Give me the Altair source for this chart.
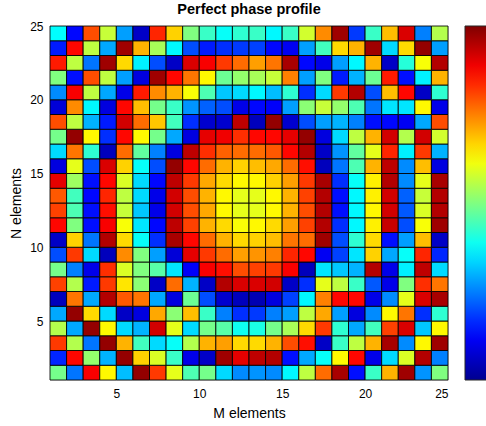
import altair as alt
import pandas as pd

# Phase (degrees); one list per row (row index = lower y edge), columns M = 1..24
row_24 = [135, 47, 288, 205, 101, 22, 302, 241, 180, 155, 137, 151, 155, 133, 155, 209, 266, 349, 65, 155, 248, 328, 90, 198]
row_23 = [54, 313, 202, 104, 349, 252, 194, 133, 72, 54, 61, 65, 68, 47, 40, 101, 158, 238, 252, 349, 122, 238, 353, 101]
row_22 = [306, 202, 86, 349, 238, 130, 72, 22, 328, 317, 295, 277, 259, 274, 346, 47, 36, 101, 133, 252, 22, 148, 223, 342]
row_21 = [180, 50, 288, 202, 101, 32, 349, 313, 274, 227, 173, 187, 194, 205, 270, 101, 180, 54, 108, 173, 306, 50, 130, 252]
row_20 = [94, 317, 202, 104, 36, 306, 266, 252, 223, 162, 115, 122, 133, 112, 151, 61, 122, 295, 342, 72, 248, 313, 22, 151]
row_19 = [29, 266, 133, 32, 313, 248, 176, 155, 97, 79, 72, 36, 47, 43, 101, 184, 205, 187, 162, 86, 126, 126, 227, 36]
row_18 = [288, 202, 108, 54, 331, 277, 245, 158, 61, 25, 25, 338, 18, 353, 25, 72, 101, 108, 90, 50, 47, 40, 104, 288]
row_17 = [176, 353, 227, 61, 313, 227, 176, 104, 32, 324, 320, 299, 313, 313, 324, 353, 32, 122, 202, 252, 331, 198, 331, 209]
row_16 = [122, 274, 151, 18, 277, 169, 90, 32, 338, 299, 281, 277, 277, 284, 313, 342, 22, 97, 169, 216, 302, 130, 295, 108]
row_15 = [32, 216, 72, 328, 241, 137, 72, 353, 313, 277, 252, 241, 248, 256, 277, 310, 18, 86, 162, 252, 338, 94, 248, 32]
row_14 = [324, 191, 50, 313, 212, 122, 47, 338, 295, 256, 238, 227, 227, 241, 259, 295, 346, 61, 137, 230, 342, 94, 216, 346]
row_13 = [284, 158, 47, 302, 202, 122, 36, 331, 288, 252, 227, 216, 216, 227, 252, 292, 342, 50, 133, 230, 331, 79, 205, 342]
row_12 = [292, 162, 50, 310, 205, 115, 36, 331, 288, 256, 227, 216, 216, 227, 252, 288, 342, 50, 133, 227, 331, 76, 212, 342]
row_11 = [313, 180, 50, 317, 223, 126, 47, 338, 292, 252, 238, 223, 227, 238, 259, 292, 342, 61, 133, 230, 335, 72, 223, 349]
row_10 = [22, 241, 86, 342, 238, 137, 61, 346, 313, 277, 252, 238, 241, 248, 274, 277, 349, 72, 151, 238, 50, 101, 248, 22]
row_9 = [72, 295, 122, 18, 266, 180, 101, 29, 324, 295, 277, 259, 263, 270, 302, 313, 40, 68, 126, 241, 104, 137, 302, 58]
row_8 = [176, 90, 36, 299, 212, 180, 166, 126, 43, 317, 310, 288, 292, 295, 317, 18, 126, 115, 108, 342, 36, 130, 338, 122]
row_7 = [292, 198, 54, 295, 234, 184, 22, 277, 108, 22, 342, 328, 328, 331, 22, 61, 216, 202, 155, 76, 36, 180, 299, 274]
row_6 = [18, 274, 104, 342, 284, 274, 104, 32, 173, 72, 25, 18, 14, 32, 68, 133, 270, 313, 313, 36, 94, 216, 328, 346]
row_5 = [104, 353, 238, 122, 22, 32, 256, 184, 248, 155, 90, 61, 65, 90, 101, 202, 256, 101, 32, 94, 227, 274, 61, 151]
row_4 = [198, 104, 353, 227, 122, 108, 331, 216, 122, 176, 166, 140, 144, 176, 194, 238, 295, 151, 104, 158, 292, 328, 115, 227]
row_3 = [295, 198, 86, 353, 252, 158, 122, 137, 198, 252, 259, 238, 238, 252, 288, 310, 22, 155, 202, 252, 346, 94, 227, 349]
row_2 = [58, 313, 187, 108, 353, 241, 212, 155, 36, 22, 349, 324, 338, 342, 50, 104, 137, 227, 313, 36, 122, 212, 342, 90]
row_1 = [176, 86, 317, 227, 112, 353, 295, 216, 162, 176, 122, 94, 97, 94, 133, 202, 277, 346, 50, 155, 252, 349, 97, 180]

rows = {
    1: row_1, 2: row_2, 3: row_3, 4: row_4, 5: row_5, 6: row_6, 7: row_7, 8: row_8,
    9: row_9, 10: row_10, 11: row_11, 12: row_12, 13: row_13, 14: row_14, 15: row_15,
    16: row_16, 17: row_17, 18: row_18, 19: row_19, 20: row_20, 21: row_21, 22: row_22,
    23: row_23, 24: row_24,
}

axis_ticks = [5, 10, 15, 20, 25]
# MATLAB "jet" colormap anchor colours
jet_domain = [0, 45, 90, 135, 180, 225, 270, 315, 360]
jet_range = ["#000090", "#0000ff", "#0080ff", "#00ffff", "#80ff80",
             "#ffff00", "#ff8000", "#ff0000", "#800000"]

records = []
for r, vals in rows.items():
    for c, v in enumerate(vals, start=1):
        records.append({"m": c, "m2": c + 1, "n": r, "n2": r + 1, "phase": v})
df = pd.DataFrame(records)

font = "Liberation Sans"

chart = (
    alt.Chart(df)
    .mark_rect(stroke="#000000", strokeWidth=1, strokeOpacity=0.85)
    .encode(
        x=alt.X(
            "m:Q",
            scale=alt.Scale(domain=[1, 25], nice=False, zero=False),
            axis=alt.Axis(values=axis_ticks, title="M elements", grid=False, ticks=False,
                          labelPadding=8, titlePadding=7, domain=False,
                          titleFontWeight="normal", titleFontSize=14, labelFontSize=12),
        ),
        x2="m2:Q",
        y=alt.Y(
            "n:Q",
            scale=alt.Scale(domain=[1, 25], nice=False, zero=False),
            axis=alt.Axis(values=axis_ticks, title="N elements", grid=False, ticks=False,
                          labelPadding=7, titlePadding=6, domain=False,
                          titleFontWeight="normal", titleFontSize=14, labelFontSize=12),
        ),
        y2="n2:Q",
        color=alt.Color(
            "phase:Q",
            scale=alt.Scale(domain=jet_domain, range=jet_range, interpolate="rgb"),
            legend=alt.Legend(
                title=None, labelExpr="''", offset=17, gradientLength=354,
                gradientThickness=26, gradientStrokeColor="#262626", gradientStrokeWidth=1,
                padding=0, direction="vertical", orient="right",
            ),
        ),
    )
    .properties(
        width=398,
        height=354,
        title=alt.TitleParams("Perfect phase profile", fontSize=14.5, fontWeight="bold",
                              font=font, color="#000000", offset=3, anchor="middle"),
        autosize=alt.AutoSizeParams(type="none"),
        padding={"left": 50, "top": 26, "right": 38, "bottom": 46},
    )
    .configure_view(stroke="#8c8c8c", strokeWidth=1)
    .configure_axis(labelFont=font, titleFont=font,
                    labelColor="#4d4d4d", titleColor="#333333")
    .configure(background="#ffffff")
)

chart.save("out.html", embed_options={"renderer": "svg", "actions": False})
